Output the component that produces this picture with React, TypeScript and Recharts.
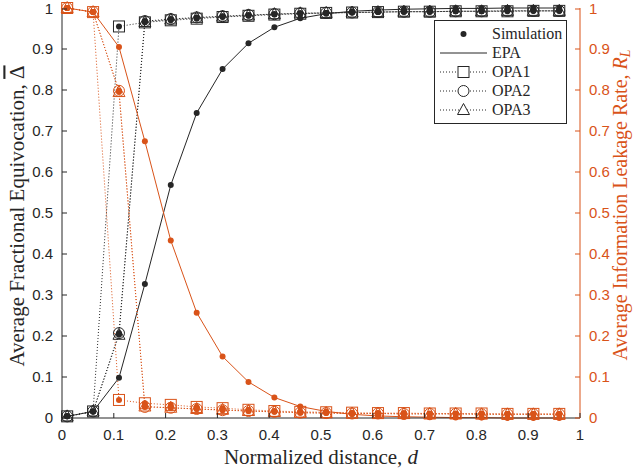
import React from 'react';
import { ComposedChart, Line, XAxis, YAxis, Legend } from 'recharts';

// normalized distance d
const distance = [0.01, 0.06, 0.11, 0.16, 0.21, 0.26, 0.31, 0.36, 0.41, 0.46, 0.51, 0.56, 0.61, 0.66, 0.71, 0.76, 0.81, 0.86, 0.91, 0.96];

// average fractional equivocation (left axis)
const epaEquivocation = [0.004, 0.016, 0.098, 0.327, 0.568, 0.744, 0.851, 0.914, 0.953, 0.975, 0.986, 0.992, 0.995, 0.997, 0.998, 0.999, 0.999, 1.0, 1.0, 1.0];
const opa1Equivocation = [0.004, 0.016, 0.955, 0.965, 0.97, 0.974, 0.978, 0.981, 0.984, 0.986, 0.988, 0.989, 0.99, 0.991, 0.991, 0.992, 0.992, 0.992, 0.993, 0.993];
const opa2Equivocation = [0.004, 0.016, 0.207, 0.968, 0.973, 0.977, 0.98, 0.983, 0.985, 0.987, 0.988, 0.989, 0.99, 0.991, 0.991, 0.992, 0.992, 0.993, 0.993, 0.993];
const opa3Equivocation = [0.004, 0.016, 0.203, 0.966, 0.972, 0.976, 0.979, 0.982, 0.985, 0.987, 0.988, 0.989, 0.99, 0.991, 0.991, 0.992, 0.992, 0.993, 0.993, 0.993];

// average information leakage rate (right axis)
const epaLeakage = [1.0, 0.99, 0.905, 0.675, 0.433, 0.257, 0.15, 0.088, 0.05, 0.028, 0.016, 0.009, 0.005, 0.003, 0.002, 0.001, 0.001, 0.0, 0.0, 0.0];
const opa1Leakage = [1.0, 0.99, 0.044, 0.036, 0.032, 0.027, 0.024, 0.02, 0.017, 0.015, 0.014, 0.013, 0.012, 0.012, 0.011, 0.011, 0.011, 0.01, 0.01, 0.01];
const opa2Leakage = [1.0, 0.99, 0.798, 0.027, 0.025, 0.022, 0.019, 0.017, 0.015, 0.013, 0.012, 0.011, 0.011, 0.01, 0.01, 0.01, 0.009, 0.009, 0.009, 0.009];
const opa3Leakage = [1.0, 0.99, 0.795, 0.028, 0.025, 0.022, 0.02, 0.017, 0.015, 0.013, 0.012, 0.011, 0.011, 0.01, 0.01, 0.01, 0.009, 0.009, 0.009, 0.009];

const axisTicks = [0, 0.1, 0.2, 0.3, 0.4, 0.5, 0.6, 0.7, 0.8, 0.9, 1];

const legendItems = ['Simulation', 'EPA', 'OPA1', 'OPA2', 'OPA3'];

const data = distance.map((d, i) => ({
  d,
  epaEq: epaEquivocation[i],
  opa1Eq: opa1Equivocation[i],
  opa2Eq: opa2Equivocation[i],
  opa3Eq: opa3Equivocation[i],
  epaRl: epaLeakage[i],
  opa1Rl: opa1Leakage[i],
  opa2Rl: opa2Leakage[i],
  opa3Rl: opa3Leakage[i],
}));

const DARK = '#262626';
const ORANGE = '#D95319';
const SANS = '"Liberation Sans", Arial, sans-serif';
const SERIF = '"Liberation Serif", "Times New Roman", serif';
const TICK_LEN = 5;
const TICK_GAP = 9;

const fmt = (v: number) => String(+v.toFixed(1));

function BottomTick(props: any) {
  const { x, y, payload } = props;
  const axisY = y - TICK_GAP;
  return (
    <g>
      <line x1={x} x2={x} y1={axisY} y2={axisY - TICK_LEN} stroke={DARK} />
      <text x={x} y={y} dy={13} textAnchor="middle" fontFamily={SANS} fontSize={15} fill={DARK}>
        {fmt(payload.value)}
      </text>
    </g>
  );
}

function TopTick(props: any) {
  const { x, y } = props;
  return <line x1={x} x2={x} y1={y} y2={y + TICK_LEN} stroke={DARK} />;
}

function LeftTick(props: any) {
  const { x, y, payload } = props;
  const axisX = x + TICK_GAP;
  return (
    <g>
      <line x1={axisX} x2={axisX + TICK_LEN} y1={y} y2={y} stroke={DARK} />
      <text x={x} y={y} dy="0.36em" textAnchor="end" fontFamily={SANS} fontSize={15} fill={DARK}>
        {fmt(payload.value)}
      </text>
    </g>
  );
}

function RightTick(props: any) {
  const { x, y, payload } = props;
  const axisX = x - TICK_GAP;
  return (
    <g>
      <line x1={axisX} x2={axisX - TICK_LEN} y1={y} y2={y} stroke={ORANGE} />
      <text x={x} y={y} dy="0.36em" textAnchor="start" fontFamily={SANS} fontSize={15} fill={ORANGE}>
        {fmt(payload.value)}
      </text>
    </g>
  );
}

type Shape = 'dot' | 'square' | 'circle' | 'triangle';

function markerShape(shape: Shape, cx: number, cy: number, color: string, withDot: boolean) {
  const s = 5.5;
  let outline: React.ReactNode = null;
  if (shape === 'square') {
    outline = <rect x={cx - s} y={cy - s} width={2 * s} height={2 * s} fill="none" stroke={color} />;
  } else if (shape === 'circle') {
    outline = <circle cx={cx} cy={cy} r={s} fill="none" stroke={color} />;
  } else if (shape === 'triangle') {
    outline = (
      <polygon
        points={`${cx},${cy - s - 1} ${cx - s - 0.5},${cy + s - 1} ${cx + s + 0.5},${cy + s - 1}`}
        fill="none"
        stroke={color}
      />
    );
  }
  return (
    <g>
      {outline}
      {withDot && <circle cx={cx} cy={cy} r={3} fill={color} />}
    </g>
  );
}

const marker = (shape: Shape, color: string) => (props: any) => {
  const { cx, cy, index } = props;
  if (cx == null || cy == null) return <g key={index} />;
  return <g key={index}>{markerShape(shape, cx, cy, color, true)}</g>;
};

function LegendBox() {
  const rowY = [14, 33, 52, 71, 90];
  return (
    <svg width={134} height={105} style={{ display: 'block' }}>
      <rect x={0.5} y={0.5} width={132} height={103} fill="#fff" stroke={DARK} />
      {legendItems.map((name, i) => {
        const y = rowY[i];
        return (
          <g key={name}>
            {i === 1 && <line x1={6} x2={53} y1={y} y2={y} stroke={DARK} />}
            {i > 1 && <line x1={6} x2={53} y1={y} y2={y} stroke={DARK} strokeDasharray="1 2" />}
            {i === 0 && <circle cx={29.5} cy={y} r={3} fill={DARK} />}
            {i === 2 && <rect x={24} y={y - 5.5} width={11} height={11} fill="#fff" stroke={DARK} />}
            {i === 3 && <circle cx={29.5} cy={y} r={5.5} fill="#fff" stroke={DARK} />}
            {i === 4 && (
              <polygon points={`29.5,${y - 6.5} 23.5,${y + 4.5} 35.5,${y + 4.5}`} fill="#fff" stroke={DARK} />
            )}
            <text x={58} y={y} dy="0.33em" fontFamily={SERIF} fontSize={16} fill={DARK}>
              {name}
            </text>
          </g>
        );
      })}
    </svg>
  );
}

export default function App() {
  return (
    <div style={{ position: 'absolute', left: 0, top: 0, background: '#fff' }}>
      <ComposedChart width={633} height={471} data={data} margin={{ top: 8, right: 0, bottom: 0, left: 0 }}>
        <XAxis
          dataKey="d"
          type="number"
          domain={[0, 1]}
          ticks={axisTicks}
          height={53}
          tickSize={0}
          tickMargin={TICK_GAP}
          tick={<BottomTick />}
          axisLine={{ stroke: DARK }}
          label={{
            content: (p: any) => {
              const vb = p.viewBox;
              return (
                <text x={vb.x + vb.width / 2} y={vb.y + 46} textAnchor="middle" fontFamily={SERIF} fontSize={21} fill={DARK}>
                  Normalized distance, <tspan fontStyle="italic">d</tspan>
                </text>
              );
            },
          }}
        />
        <XAxis
          xAxisId="top"
          orientation="top"
          dataKey="d"
          type="number"
          domain={[0, 1]}
          ticks={axisTicks}
          height={0}
          tickSize={0}
          tickMargin={0}
          tick={<TopTick />}
          axisLine={{ stroke: DARK }}
        />
        <YAxis
          yAxisId="left"
          domain={[0, 1]}
          ticks={axisTicks}
          width={62}
          tickSize={0}
          tickMargin={TICK_GAP}
          tick={<LeftTick />}
          axisLine={{ stroke: DARK }}
          label={{
            content: (p: any) => {
              const vb = p.viewBox;
              const cx = vb.x + 17;
              const cy = vb.y + 208;
              return (
                <text
                  x={cx}
                  y={cy}
                  transform={`rotate(-90 ${cx} ${cy})`}
                  textAnchor="middle"
                  dy="0.35em"
                  fontFamily={SERIF}
                  fontSize={21}
                  fill={DARK}
                >
                  Average Fractional Equivocation,{' '}
                  <tspan style={{ textDecoration: 'overline' }}>{'\u0394'}</tspan>
                </text>
              );
            },
          }}
        />
        <YAxis
          yAxisId="right"
          orientation="right"
          domain={[0, 1]}
          ticks={axisTicks}
          width={53}
          tickSize={0}
          tickMargin={TICK_GAP}
          tick={<RightTick />}
          axisLine={{ stroke: ORANGE }}
          label={{
            content: (p: any) => {
              const vb = p.viewBox;
              const cx = vb.x + 40;
              const cy = vb.y + 197;
              return (
                <text
                  x={cx}
                  y={cy}
                  transform={`rotate(-90 ${cx} ${cy})`}
                  textAnchor="middle"
                  dy="0.35em"
                  fontFamily={SERIF}
                  fontSize={20}
                  fill={ORANGE}
                >
                  Average Information Leakage Rate, <tspan fontStyle="italic">R</tspan>
                  <tspan fontStyle="italic" fontSize={14} dy="0.2em">L</tspan>
                </text>
              );
            },
          }}
        />

        {/* equivocation curves */}
        <Line yAxisId="left" dataKey="opa1Eq" stroke={DARK} strokeWidth={1} strokeDasharray="1 2" dot={marker('square', DARK)} isAnimationActive={false} />
        <Line yAxisId="left" dataKey="opa2Eq" stroke={DARK} strokeWidth={1} strokeDasharray="1 2" dot={marker('circle', DARK)} isAnimationActive={false} />
        <Line yAxisId="left" dataKey="opa3Eq" stroke={DARK} strokeWidth={1} strokeDasharray="1 2" dot={marker('triangle', DARK)} isAnimationActive={false} />
        <Line yAxisId="left" dataKey="epaEq" stroke={DARK} strokeWidth={1} dot={marker('dot', DARK)} isAnimationActive={false} />

        {/* leakage rate curves */}
        <Line yAxisId="right" dataKey="opa1Rl" stroke={ORANGE} strokeWidth={1} strokeDasharray="1 2" dot={marker('square', ORANGE)} isAnimationActive={false} />
        <Line yAxisId="right" dataKey="opa2Rl" stroke={ORANGE} strokeWidth={1} strokeDasharray="1 2" dot={marker('circle', ORANGE)} isAnimationActive={false} />
        <Line yAxisId="right" dataKey="opa3Rl" stroke={ORANGE} strokeWidth={1} strokeDasharray="1 2" dot={marker('triangle', ORANGE)} isAnimationActive={false} />
        <Line yAxisId="right" dataKey="epaRl" stroke={ORANGE} strokeWidth={1} dot={marker('dot', ORANGE)} isAnimationActive={false} />

        <Legend
          layout="vertical"
          align="center"
          verticalAlign="middle"
          content={() => <LegendBox />}
          wrapperStyle={{ position: 'absolute', left: 434, top: 20, width: 134, height: 105 }}
        />
      </ComposedChart>
    </div>
  );
}
